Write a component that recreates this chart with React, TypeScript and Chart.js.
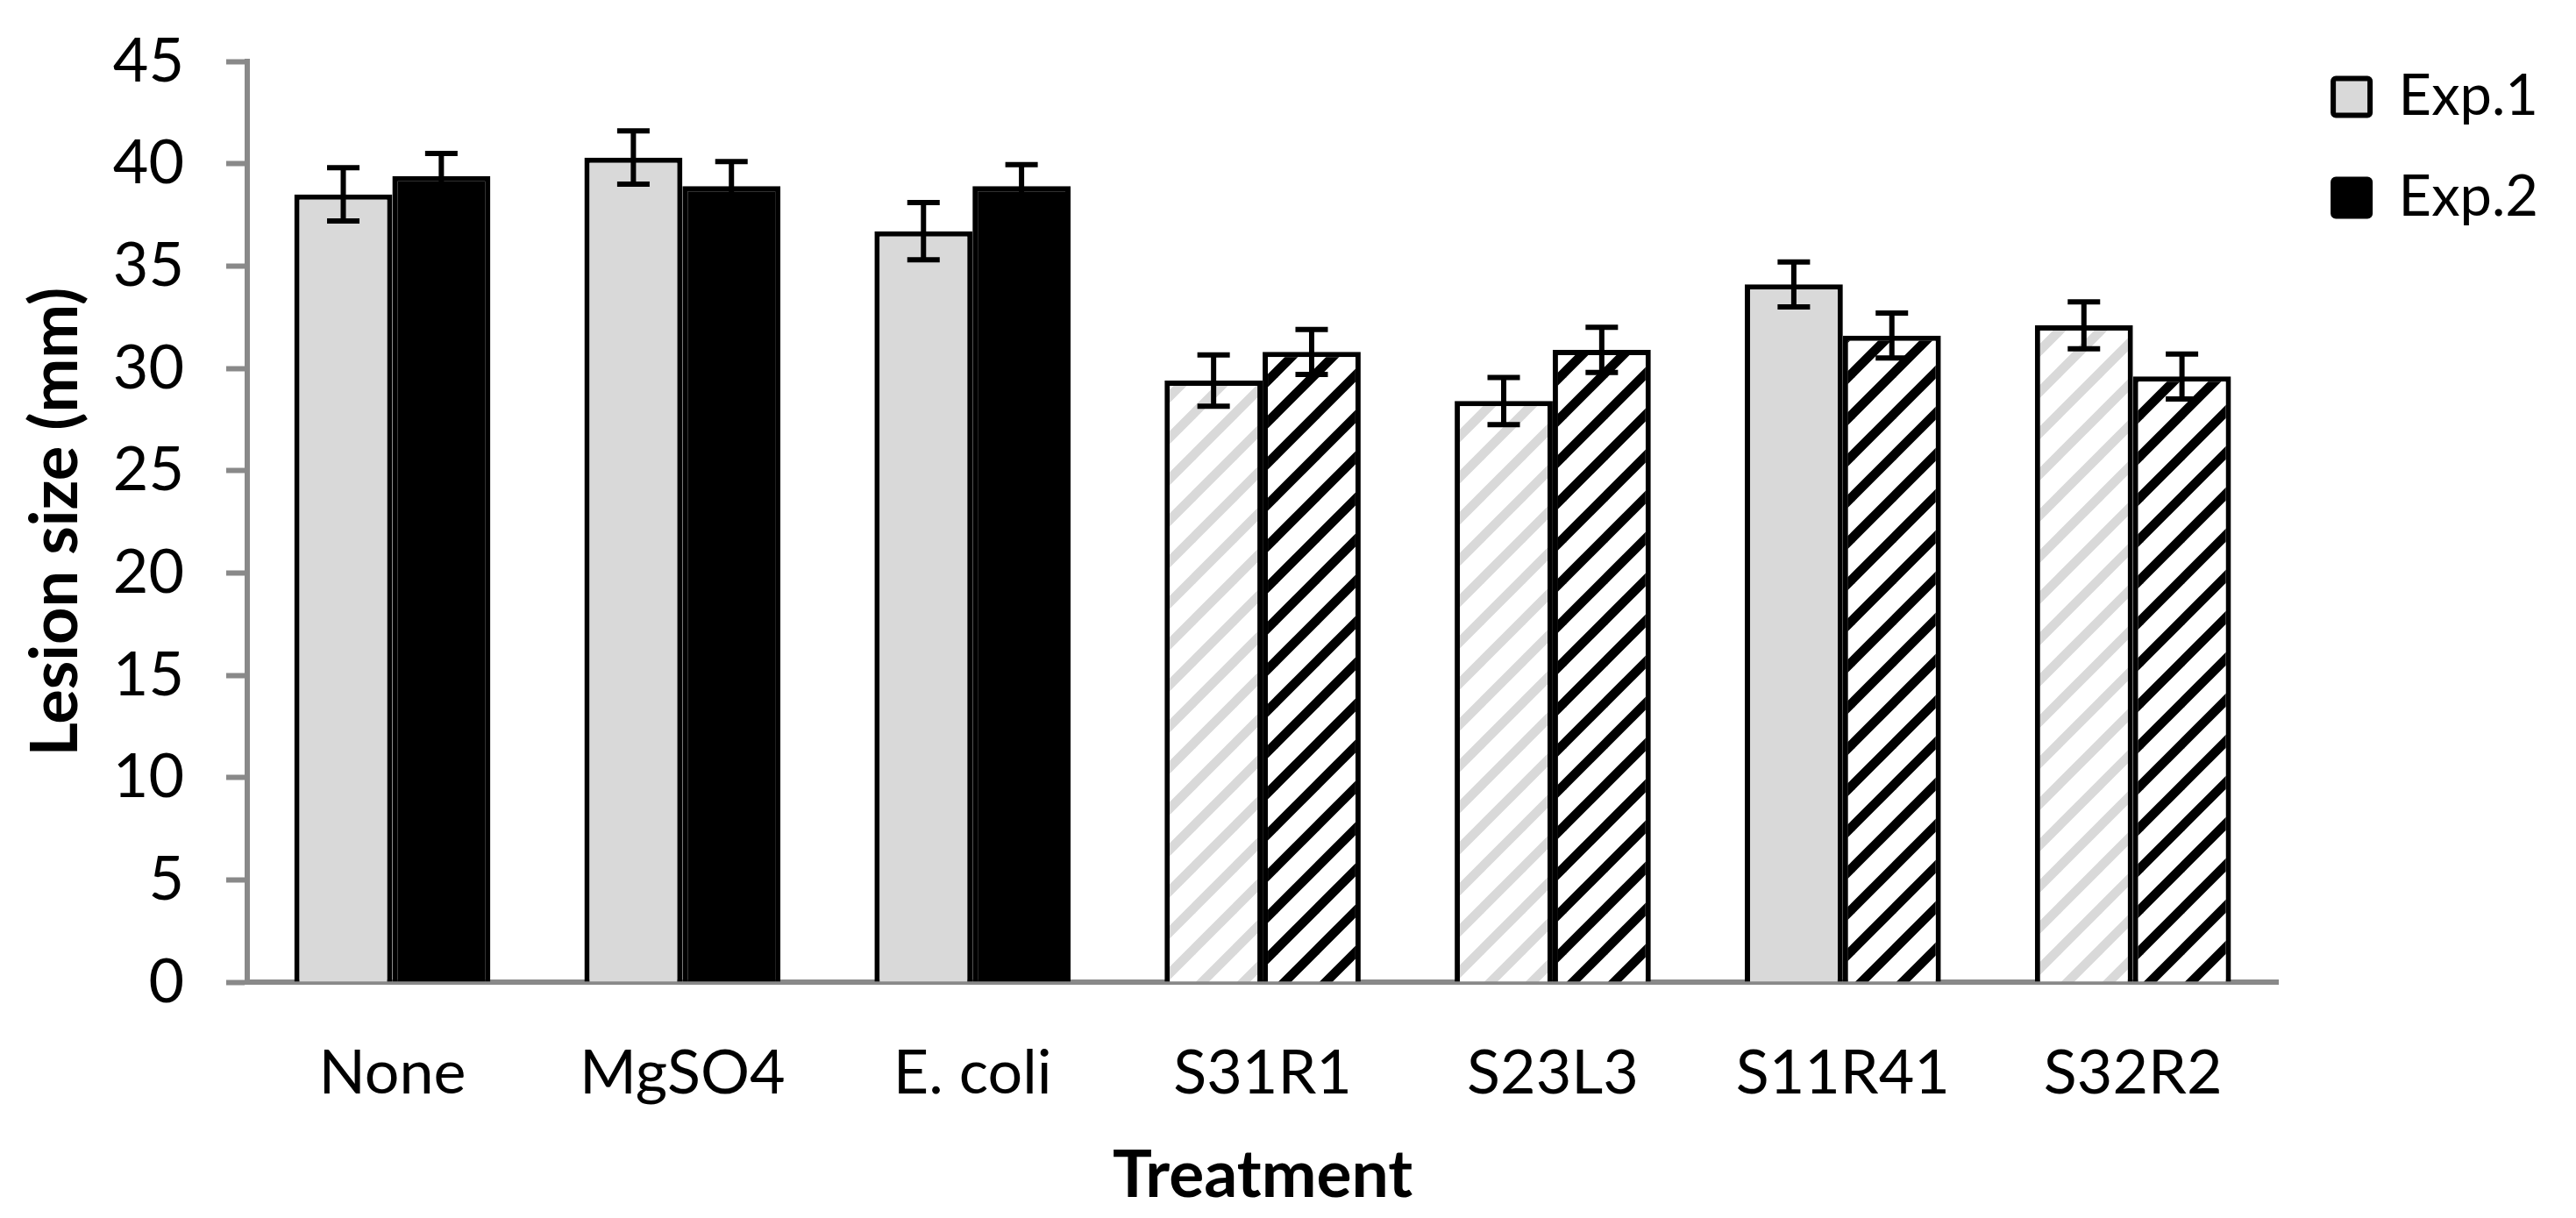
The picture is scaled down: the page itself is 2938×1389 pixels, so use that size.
import { useEffect, useRef } from 'react';
import { Chart, registerables, type ChartConfiguration, type Plugin } from 'chart.js';

Chart.register(...registerables);

// ── Data ──────────────────────────────────────────────────────────────────────

const categories = ['None', 'MgSO4', 'E. coli', 'S31R1', 'S23L3', 'S11R41', 'S32R2'];

const exp1    = [38.5, 40.3, 36.7, 29.4, 28.4, 34.1, 32.1];
const exp1Err = [1.3, 1.3, 1.4, 1.25, 1.15, 1.1, 1.15];

const exp2    = [39.4, 38.9, 38.9, 30.8, 30.9, 31.6, 29.6];
const exp2Err = [1.1, 1.2, 1.05, 1.1, 1.1, 1.1, 1.1];

// which bars are drawn with diagonal hatching instead of a solid fill
const exp1Hatched = [false, false, false, true, true, false, true];
const exp2Hatched = [false, false, false, true, true, true, true];

const yTicks = { min: 0, max: 45, step: 5 };

// ── Design tokens ─────────────────────────────────────────────────────────────

const C = {
  grey:  '#d9d9d9',
  black: '#000000',
  axis:  '#898989',
  white: '#ffffff',
} as const;

const FONT = 'Lato, "Open Sans", sans-serif';

// 45° "/" stripes, one every 47px
function makeHatch(color: string): CanvasPattern | string {
  const S = 47;
  const c = document.createElement('canvas');
  c.width = S;
  c.height = S;
  const g = c.getContext('2d');
  if (!g) return color;
  g.fillStyle = C.white;
  g.fillRect(0, 0, S, S);
  g.strokeStyle = color;
  g.lineWidth = 10.5;
  for (const dy of [-S, 0, S]) {
    g.beginPath();
    g.moveTo(-0.3 * S, S + dy + 0.3 * S);
    g.lineTo(1.3 * S, dy - 0.3 * S);
    g.stroke();
  }
  return g.createPattern(c, 'repeat') ?? color;
}

// ── Plugins ───────────────────────────────────────────────────────────────────

const errorBars: Plugin<'bar'> = {
  id: 'errorBars',
  afterDatasetsDraw(chart) {
    const { ctx } = chart;
    const y = chart.scales.y;
    ctx.save();
    ctx.strokeStyle = C.black;
    ctx.lineWidth = 6;
    chart.data.datasets.forEach((ds, di) => {
      const errs = (ds as any).errors as number[];
      const meta = chart.getDatasetMeta(di);
      meta.data.forEach((bar, i) => {
        const v = ds.data[i] as number;
        const e = errs[i];
        const top = y.getPixelForValue(v + e);
        const bot = y.getPixelForValue(v - e);
        const x = bar.x;
        ctx.beginPath();
        ctx.moveTo(x, top);
        ctx.lineTo(x, bot);
        ctx.moveTo(x - 18.5, top);
        ctx.lineTo(x + 18.5, top);
        ctx.moveTo(x - 18.5, bot);
        ctx.lineTo(x + 18.5, bot);
        ctx.stroke();
      });
    });
    ctx.restore();
  },
};

// nudge the legend a little to the right of the plot area
const legendShift: Plugin<'bar'> = {
  id: 'legendShift',
  afterLayout(chart) {
    const lg = chart.legend;
    if (!lg) return;
    lg.left += 13;
    lg.right += 13;
  },
};

// ── Component ─────────────────────────────────────────────────────────────────

export default function App() {
  const canvasRef = useRef<HTMLCanvasElement>(null);
  const chartRef  = useRef<Chart | null>(null);

  useEffect(() => {
    const canvas = canvasRef.current;
    if (!canvas) return;

    const greyHatch  = makeHatch(C.grey);
    const blackHatch = makeHatch(C.black);

    const config: ChartConfiguration<'bar'> = {
      type: 'bar',
      data: {
        labels: categories,
        datasets: [
          {
            label: 'Exp.1',
            data: exp1,
            errors: exp1Err,
            backgroundColor: exp1Hatched.map((h) => (h ? greyHatch : C.grey)),
            borderColor: C.black,
            borderWidth: 6,
            categoryPercentage: 0.676,
            barPercentage: 1,
          } as any,
          {
            label: 'Exp.2',
            data: exp2,
            errors: exp2Err,
            backgroundColor: exp2Hatched.map((h) => (h ? blackHatch : C.black)),
            borderColor: C.black,
            borderWidth: 6,
            categoryPercentage: 0.676,
            barPercentage: 1,
          } as any,
        ],
      },
      options: {
        responsive: true,
        maintainAspectRatio: false,
        animation: false,
        layout: { padding: { top: 28, right: 46, left: 0, bottom: 0 } },
        plugins: {
          tooltip: { enabled: false },
          legend: {
            position: 'right',
            align: 'start',
            maxWidth: 300,
            labels: {
              boxWidth: 42,
              boxHeight: 42,
              padding: 50,
              useBorderRadius: true,
              borderRadius: 3,
              color: C.black,
              font: { family: FONT, size: 65 },
            },
          },
        },
        scales: {
          x: {
            z: 1,
            grid: { display: false, drawTicks: false },
            border: { display: true, color: C.axis, width: 6 },
            ticks: {
              color: C.black,
              font: { family: FONT, size: 70 },
              padding: 62,
              autoSkip: false,
              maxRotation: 0,
            },
            title: {
              display: true,
              text: 'Treatment',
              color: C.black,
              font: { family: FONT, size: 75, weight: 'bold' },
              padding: { top: 0, bottom: 3 },
            },
            afterFit: (scale) => { scale.height = 269; },
          },
          y: {
            min: yTicks.min,
            max: yTicks.max,
            grid: {
              drawOnChartArea: false,
              drawTicks: true,
              tickLength: 24,
              tickWidth: 6,
              tickColor: C.axis,
              color: C.axis,
            },
            border: { display: true, color: C.axis, width: 6 },
            ticks: {
              stepSize: yTicks.step,
              color: C.black,
              font: { family: FONT, size: 70 },
              padding: 48,
            },
            title: {
              display: true,
              text: 'Lesion size (mm)',
              color: C.black,
              font: { family: FONT, size: 74, weight: 'bold' },
              padding: { top: 20, bottom: 0 },
            },
            afterFit: (scale) => {
              scale.width = 282;
              scale.paddingTop = 70;
            },
          },
        },
      },
      plugins: [errorBars, legendShift],
    };

    if (chartRef.current) chartRef.current.destroy();
    chartRef.current = new Chart(canvas, config);

    return () => { chartRef.current?.destroy(); chartRef.current = null; };
  }, []);

  return (
    <div style={{ position: 'fixed', left: 0, top: 0, width: 2938, height: 1389, background: C.white }}>
      <canvas ref={canvasRef} />
    </div>
  );
}
